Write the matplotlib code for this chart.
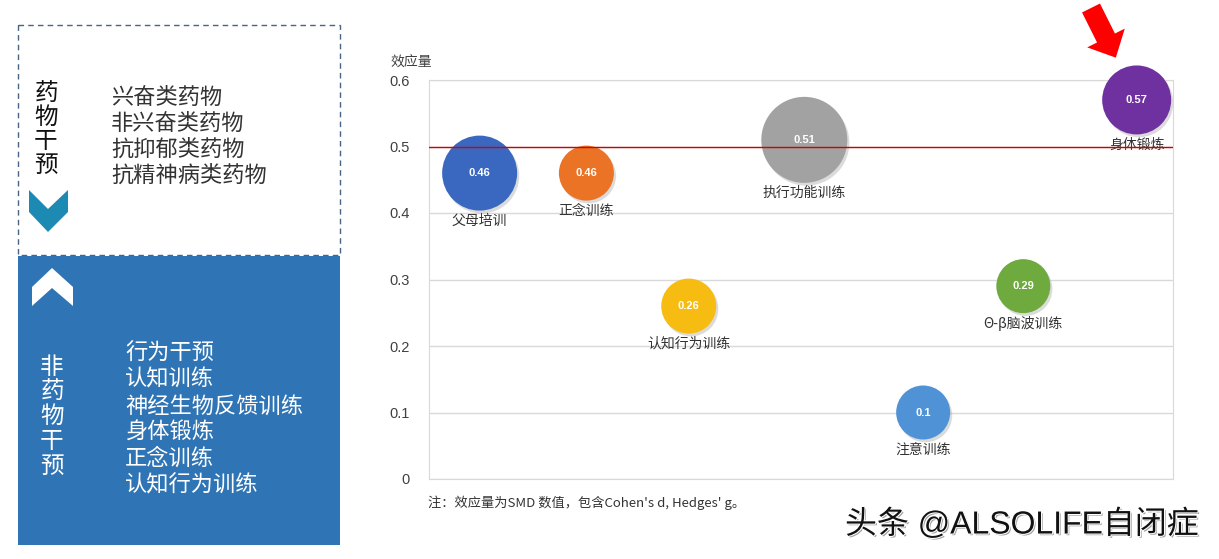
import matplotlib
matplotlib.use("Agg")
import matplotlib.pyplot as plt
import matplotlib.patheffects as pe
from matplotlib.patches import Rectangle, Polygon, FancyArrow

plt.rcParams['font.family'] = ['Noto Sans CJK SC', 'DejaVu Sans']

# data
categories = ['父母培训', '正念训练', '认知行为训练', '执行功能训练', '注意训练', 'Θ-β脑波训练', '身体锻炼']
x_pos = [1.0, 1.97, 2.9, 3.95, 5.03, 5.94, 6.97]
effect = [0.46, 0.46, 0.26, 0.51, 0.10, 0.29, 0.57]
bubble = [75, 55, 55, 86, 54, 54, 69]   # relative bubble diameter
colors = ['#3A68C0', '#EB7325', '#F6BC12', '#A2A2A2', '#4F93D6', '#6EAA3E', '#7031A0']
threshold = 0.5
yticks = [0, 0.1, 0.2, 0.3, 0.4, 0.5, 0.6]

drug_items = ['兴奋类药物', '非兴奋类药物', '抗抑郁类药物', '抗精神病类药物']
nondrug_items = ['行为干预', '认知训练', '神经生物反馈训练', '身体锻炼', '正念训练', '认知行为训练']

W, H = 1219, 559
fig = plt.figure(figsize=(W / 100, H / 100), dpi=100)

# overlay in pixel coords for the left panel and decorations
bg = fig.add_axes([0, 0, 1, 1])
bg.set_xlim(0, W)
bg.set_ylim(H, 0)
bg.axis('off')

bg.add_patch(Rectangle((18, 25), 322, 230, fill=False, ec='#4A6584', lw=1, ls=(0, (4, 3))))
bg.add_patch(Rectangle((18, 256), 322, 289, fc='#2F74B5', ec='none'))

# chevrons
bg.add_patch(Polygon([(29, 190), (48, 209), (68, 190), (68, 212), (48, 232), (29, 212)],
                     closed=True, fc='#1C8AB3', ec='none'))
bg.add_patch(Polygon([(32, 287), (52, 268), (73, 287), (73, 306), (52, 288), (32, 306)],
                     closed=True, fc='white', ec='none'))

for i, ch in enumerate('药物干预'):
    bg.text(46, 93 + i * 24, ch, fontsize=17, color='#111111', ha='center', va='center')
for i, ch in enumerate('非药物干预'):
    bg.text(52, 367 + i * 24.8, ch, fontsize=17, color='white', ha='center', va='center')
for i, t in enumerate(drug_items):
    bg.text(111, 97 + i * 26, t, fontsize=16, color='#333333', ha='left', va='center')
for i, t in enumerate(nondrug_items):
    bg.text(125, 353 + i * 26.4, t, fontsize=16, color='white', ha='left', va='center')

# red arrow
bg.add_patch(FancyArrow(1091, 8, 15, 30, width=20, head_width=42, head_length=22,
                        length_includes_head=False, fc='#FF0000', ec='none'))

bg.text(391, 63, '效应量', fontsize=10, color='#404040', ha='left', va='center')
bg.text(428, 503, "注：效应量为SMD 数值，包含Cohen's d, Hedges' g。", fontsize=9.5,
        color='#333333', ha='left', va='center')
bg.text(845, 525, '头条 @ALSOLIFE自闭症', fontsize=23, color='#111111', ha='left', va='center',
        family=['Liberation Sans', 'Noto Sans CJK SC'],
        path_effects=[pe.withSimplePatchShadow(offset=(1.2, -1.2), shadow_rgbFace='#888888', alpha=0.8),
                      pe.withStroke(linewidth=1.5, foreground='white')])

# bubble chart
ax = fig.add_axes([429 / W, (H - 479) / H, (1173 - 429) / W, (479 - 80) / H])
ax.set_xlim(0.54, 7.3)
ax.set_ylim(0, 0.6)
ax.set_yticks(yticks)
ax.set_yticklabels(['0', '0.1', '0.2', '0.3', '0.4', '0.5', '0.6'], family=['Liberation Sans', 'DejaVu Sans'])
ax.set_xticks([])
ax.tick_params(axis='y', length=0, labelsize=10.5, labelcolor='#404040', pad=14)
ax.grid(axis='y', color='#D9D9D9', lw=1)
ax.set_axisbelow(True)
for s in ax.spines.values():
    s.set_color('#D9D9D9')

sizes = [(d * 0.72) ** 2 for d in bubble]
ax.scatter(x_pos, effect, s=sizes, c='#9A9A9A', alpha=0.35, linewidths=0, zorder=2, clip_on=False,
           transform=ax.transData + matplotlib.transforms.ScaledTranslation(1.5 / 72, -2 / 72, fig.dpi_scale_trans))
ax.scatter(x_pos, effect, s=sizes, c=colors, linewidths=0, zorder=3, clip_on=False)

for xi, yi, d, lab in zip(x_pos, effect, bubble, categories):
    ax.text(xi, yi, f'{yi:g}', fontsize=8, fontweight='bold', color='white', ha='center', va='center',
            zorder=4, family=['Liberation Sans', 'DejaVu Sans'])
    ax.annotate(lab, (xi, yi), xytext=(0, -(d / 2 + 10) * 0.72), textcoords='offset points',
                fontsize=10, color='#333333', ha='center', va='center', zorder=4)

ax.axhline(threshold, color='#D40000', lw=1, zorder=5)

fig.savefig('out.png', dpi=100)
